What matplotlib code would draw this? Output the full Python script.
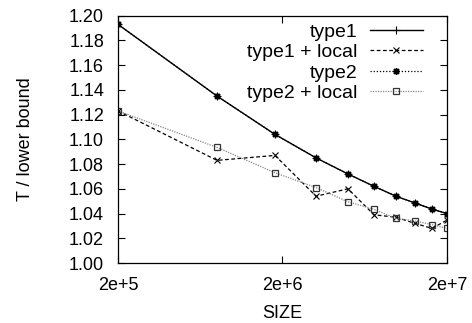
import matplotlib
matplotlib.use("Agg")
import matplotlib.pyplot as plt
from matplotlib.ticker import FixedLocator, FixedFormatter, NullLocator

plt.rcParams['font.family'] = ['Liberation Sans', 'DejaVu Sans']

sizes = [2e5, 8e5, 1.8e6, 3.2e6, 5e6, 7.2e6, 9.8e6, 1.28e7, 1.62e7, 2e7]
type1 = [1.193, 1.135, 1.104, 1.085, 1.072, 1.062, 1.054, 1.0485, 1.0436, 1.040]
type1_local = [1.123, 1.083, 1.087, 1.054, 1.060, 1.039, 1.037, 1.032, 1.028, 1.0347]
type2 = [1.193, 1.135, 1.104, 1.085, 1.072, 1.062, 1.054, 1.0485, 1.0436, 1.040]
type2_local = [1.123, 1.0935, 1.073, 1.061, 1.0495, 1.0434, 1.036, 1.034, 1.031, 1.028]

xticks = [2e5, 2e6, 2e7]
xticklabels = ['2e+5', '2e+6', '2e+7']
yticks = [1.00, 1.02, 1.04, 1.06, 1.08, 1.10, 1.12, 1.14, 1.16, 1.18, 1.20]

fig = plt.figure(figsize=(4.72, 3.23), dpi=100)
ax = fig.add_axes([118/472, 1-263/323, 329/472, 247.3/323])

ax.plot(sizes, type1, color='black', lw=1.0, ls='-', marker='+', ms=6, mew=0.8, label='type1')
ax.plot(sizes, type1_local, color='black', lw=0.9, ls=(0, (3, 2)), marker='x', ms=4.5, mew=0.8, label='type1 + local')
ax.plot(sizes, type2, color='black', lw=0.9, ls=(0, (1, 1.5)), marker=(8, 2, 0), ms=5, mew=1.0, label='type2')
ax.plot(sizes, type2_local, color='#888888', lw=0.9, ls=(0, (1, 1)), marker='s', ms=4.5, mew=0.9,
        mfc='none', mec='#333333', label='type2 + local')

ax.set_xscale('log')
ax.set_xlim(2e5, 2e7)
ax.set_ylim(1.0, 1.2)
ax.xaxis.set_major_locator(FixedLocator(xticks))
ax.xaxis.set_major_formatter(FixedFormatter(xticklabels))
ax.xaxis.set_minor_locator(NullLocator())
ax.set_yticks(yticks)
ax.set_yticklabels([f'{v:.2f}' for v in yticks])

ax.tick_params(direction='in', top=True, right=True, length=5, width=0.8, labelsize=13, color='black')
ax.tick_params(axis='y', pad=10)
ax.tick_params(axis='x', pad=10)
for s in ax.spines.values():
    s.set_linewidth(0.9)

ax.set_xlabel('SIZE', fontsize=13)
ax.set_ylabel('T / lower bound', fontsize=13)
ax.xaxis.set_label_coords(0.5, -0.170)
ax.yaxis.set_label_coords(-0.256, 0.5)

leg = ax.legend(loc='upper right', frameon=False, markerfirst=False, fontsize=14,
                handlelength=2.73, handletextpad=0.62, labelspacing=0.15,
                borderpad=0, borderaxespad=0, bbox_to_anchor=((423-118)/329, 0.9705))

fig.savefig('out.png', dpi=100)
